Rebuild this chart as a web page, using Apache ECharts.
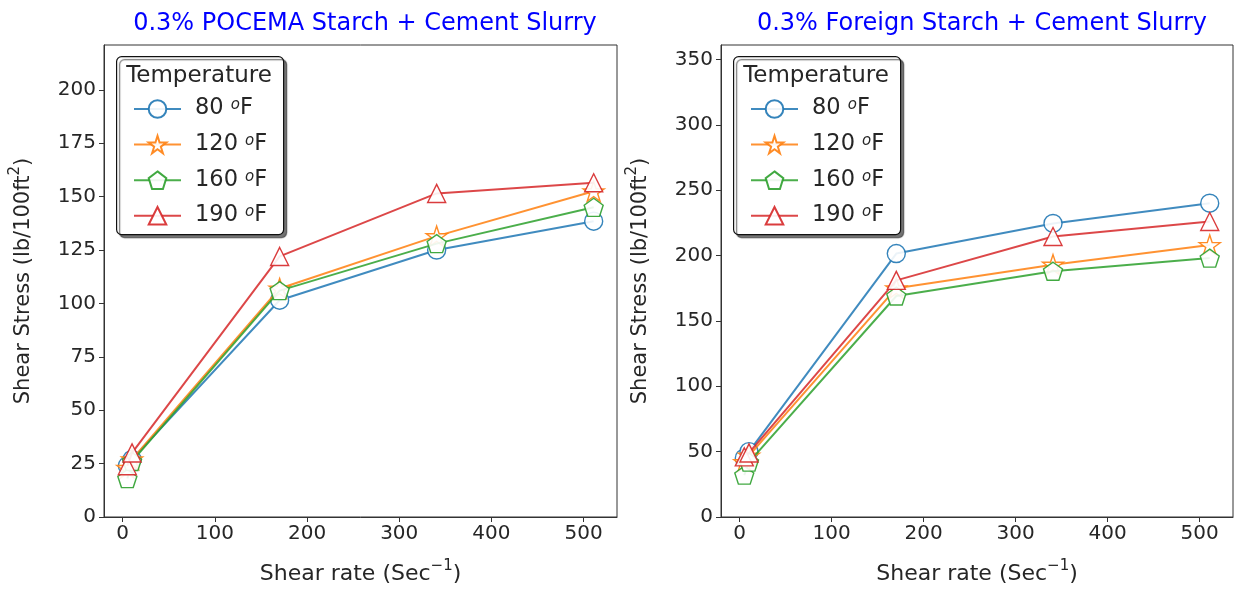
<!DOCTYPE html>
<html><head><meta charset="utf-8">
<script src="https://cdn.jsdelivr.net/npm/echarts@6/dist/echarts.min.js"></script>
<style>html,body{margin:0;padding:0;background:#fff}#c{width:1234px;height:590px}</style>
</head><body><div id="c"></div>
<script>
// ---- data ----
const shearRate = [5.11, 10.22, 170.3, 340.6, 510.9];
const temperatures = ['80', '120', '160', '190'];
const pocema80 = [24, 27, 101.5, 125, 138.5];
const pocema120 = [23, 27, 107, 131.5, 152.5];
const pocema160 = [18, 26, 106, 128, 145];
const pocema190 = [24, 30, 122, 151.5, 156.5];
const foreign80 = [45, 50, 201.5, 224.5, 240];
const foreign120 = [42, 47, 175, 193, 208];
const foreign160 = [32, 42, 169, 188, 198];
const foreign190 = [46, 49, 181, 214.5, 226];
const xTicks = [0, 100, 200, 300, 400, 500];
const yTicksLeft = [0, 25, 50, 75, 100, 125, 150, 175, 200];
const yTicksRight = [0, 50, 100, 150, 200, 250, 300, 350];
const titles = ['0.3% POCEMA Starch + Cement Slurry', '0.3% Foreign Starch + Cement Slurry'];

// ---- styles ----
const colors = ['#1f77b4', '#ff7f0e', '#2ca02c', '#d62728'];
const star = 'path://M0,-1000L224.5,-309L951,-309L363,118L588,809L0,382L-588,809L-363,118L-951,-309L-224.5,-309Z';
const pent = 'path://M0,-1000L951,-309L588,809L-588,809L-951,-309Z';
const symbols = ['circle', star, pent, 'triangle'];
const symSizes = [18, [21, 20], [19, 18], 18];
const FONT = 'DejaVu Sans';
const TXT = '#262626';

const leftData = [pocema80, pocema120, pocema160, pocema190];
const rightData = [foreign80, foreign120, foreign160, foreign190];

function mkSeries(dataArr, idx) {
  return dataArr.map((vals, i) => ({
    type: 'line',
    name: temperatures[i],
    xAxisIndex: idx, yAxisIndex: idx,
    data: shearRate.map((x, j) => [x, vals[j]]),
    symbol: symbols[i],
    symbolSize: symSizes[i],
    showAllSymbol: true,
    animation: false,
    z: 2 + i,
    lineStyle: { color: colors[i], width: 2, opacity: 0.85 },
    itemStyle: { color: '#fff', borderColor: colors[i], borderWidth: 1.4, opacity: 0.9 },
    emphasis: { disabled: true }
  }));
}

const nameRichX = {
  t: { fontFamily: FONT, fontSize: 22, color: TXT, lineHeight: 26, verticalAlign: 'bottom' },
  sup: { fontFamily: FONT, fontSize: 15, color: TXT, lineHeight: 15, verticalAlign: 'top' }
};
const nameRichY = {
  t: { fontFamily: FONT, fontSize: 21, color: TXT, lineHeight: 26, verticalAlign: 'bottom' },
  sup: { fontFamily: FONT, fontSize: 15, color: TXT, lineHeight: 15, verticalAlign: 'top' }
};

function xAxis(idx) {
  return {
    type: 'value', gridIndex: idx, min: -20.2, max: 536.2,
    name: '{t|Shear rate (Sec}{sup|−1}{t|)}', nameLocation: 'middle', nameGap: 42,
    nameTextStyle: { rich: nameRichX },
    axisLine: { show: true, onZero: false, lineStyle: { color: '#333', width: 1 } },
    axisTick: { show: true, length: 5, lineStyle: { color: '#333' }, customValues: xTicks },
    axisLabel: { fontFamily: FONT, fontSize: 20, color: TXT, margin: 7, customValues: xTicks },
    splitLine: { show: false }
  };
}
function yAxis(idx, max, ticks) {
  return {
    type: 'value', gridIndex: idx, min: 0, max: max,
    name: '{t|Shear Stress (lb/100ft}{sup|2}{t|)}', nameLocation: 'middle', nameGap: 70, nameRotate: 90,
    nameTextStyle: { rich: nameRichY },
    axisLine: { show: true, onZero: false, lineStyle: { color: '#333', width: 1 } },
    axisTick: { show: true, length: 5, lineStyle: { color: '#333' }, customValues: ticks },
    axisLabel: { fontFamily: FONT, fontSize: 20, color: TXT, margin: 8, customValues: ticks },
    splitLine: { show: false }
  };
}

const legendRich = {
  n: { fontFamily: FONT, fontSize: 22.5, color: TXT, lineHeight: 22, verticalAlign: 'bottom' },
  s: { fontFamily: FONT, fontSize: 15, fontStyle: 'italic', color: TXT, lineHeight: 15, verticalAlign: 'top' }
};
function legend(left) {
  return {
    orient: 'vertical', left: left, top: 92, itemWidth: 47, itemHeight: 22, itemGap: 12.6,
    data: temperatures, selectedMode: false, z: 110,
    formatter: n => `{n|${n} }{s|o}{n|F}`,
    textStyle: { rich: legendRich, padding: [0, 0, 0, 9] }
  };
}

function legendBox(x) {
  return [
    { type: 'rect', left: x, top: 56, z: 100, shape: { width: 167, height: 178, r: 5 },
      style: { fill: '#fff', stroke: '#111', lineWidth: 1.2, shadowColor: 'rgba(0,0,0,0.55)', shadowOffsetX: 3, shadowOffsetY: 3, shadowBlur: 1 } },
    { type: 'text', x: x + 83, y: 76, z: 101,
      style: { text: 'Temperature', font: `23px "${FONT}"`, fill: TXT, textAlign: 'center', textVerticalAlign: 'middle' } }
  ];
}

const chart = echarts.init(document.getElementById('c'), null, { renderer: 'canvas' });
chart.setOption({
  animation: false,
  title: [
    { text: titles[0], left: 360, top: 7, textAlign: 'center', textStyle: { fontFamily: FONT, fontSize: 24, fontWeight: 'normal', color: '#0000ff' } },
    { text: titles[1], left: 977, top: 7, textAlign: 'center', textStyle: { fontFamily: FONT, fontSize: 24, fontWeight: 'normal', color: '#0000ff' } }
  ],
  grid: [
    { left: 104, top: 45, width: 513, height: 472, show: true, borderColor: '#333', borderWidth: 1, backgroundColor: 'transparent' },
    { left: 721, top: 45, width: 512, height: 472, show: true, borderColor: '#333', borderWidth: 1, backgroundColor: 'transparent' }
  ],
  xAxis: [xAxis(0), xAxis(1)],
  yAxis: [yAxis(0, 221, yTicksLeft), yAxis(1, 361, yTicksRight)],
  graphic: [...legendBox(116), ...legendBox(733)],
  legend: [legend(128), legend(745)],
  series: [...mkSeries(leftData, 0), ...mkSeries(rightData, 1)]
});
</script></body></html>
